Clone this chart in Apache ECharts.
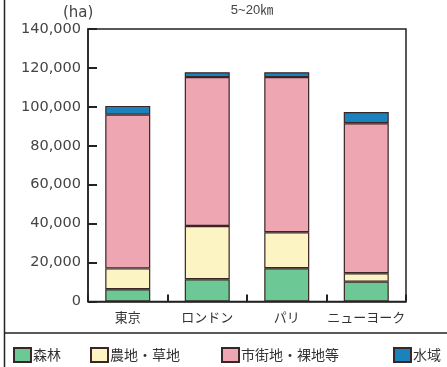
<!DOCTYPE html>
<html>
<head>
<meta charset="utf-8">
<script src="https://cdn.jsdelivr.net/npm/echarts@6/dist/echarts.min.js"></script>
<style>
  html, body { margin: 0; padding: 0; background: #fff; }
  #chart { width: 447px; height: 367px; }
</style>
</head>
<body>
<div id="chart"></div>
<script>
// Land use within 5-20 km of each city centre (ha)
const cities = ['東京', 'ロンドン', 'パリ', 'ニューヨーク'];
const forest = [6300, 11400, 17100, 10200];
const farmland = [10700, 27400, 18500, 4300];
const urban = [79000, 76500, 79700, 77100];
const water = [4500, 2500, 2500, 5700];
const yTicks = [0, 20000, 40000, 60000, 80000, 100000, 120000, 140000];

const seriesNames = ['森林', '農地・草地', '市街地・裸地等', '水域'];
const seriesColors = ['#6cc894', '#fdf4c4', '#eea6b3', '#1a83bd'];
const seriesData = [forest, farmland, urban, water];

const cjk = '"Noto Sans CJK JP", "Noto Sans", sans-serif';
const latin = '"DejaVu Sans", sans-serif';

const chart = echarts.init(document.getElementById('chart'), null, { renderer: 'canvas' });

const legendLefts = [13, 90, 221, 393];

chart.setOption({
  animation: false,
  backgroundColor: '#fff',
  title: {
    text: '5~20㎞',
    left: 247,
    top: -1,
    textAlign: 'center',
    textStyle: { fontFamily: '"Liberation Sans", "Noto Sans CJK JP", sans-serif', fontSize: 13, fontWeight: 'normal', color: '#444' }
  },
  grid: {
    left: 88, right: 41, top: 29, bottom: 65.5,
    show: true, borderColor: '#222', borderWidth: 1.5
  },
  legend: seriesNames.map((n, i) => ({
    data: [n],
    left: legendLefts[i],
    top: 347,
    padding: 0,
    icon: 'rect',
    itemWidth: 17,
    itemHeight: 14,
    textStyle: { fontFamily: cjk, fontSize: 14, color: '#333', padding: [0, 0, 0, -3] },
    selectedMode: false
  })),
  xAxis: {
    type: 'category',
    data: cities,
    axisLine: { show: true, lineStyle: { color: '#222', width: 1.5 } },
    axisTick: { show: true, inside: true, length: 7, lineStyle: { color: '#222', width: 2 } },
    axisLabel: { interval: 0, fontFamily: cjk, fontSize: 13, color: '#333', margin: 9 }
  },
  yAxis: {
    type: 'value',
    min: 0, max: 140000, interval: 20000,
    axisLine: { show: true, lineStyle: { color: '#222', width: 1.5 } },
    axisTick: { show: true, inside: true, length: 9, lineStyle: { color: '#222', width: 2 } },
    splitLine: { show: false },
    axisLabel: {
      fontFamily: latin, fontSize: 14.5, color: '#444', margin: 7,
      formatter: v => yTicks.includes(v) ? v.toLocaleString('en-US') : ''
    }
  },
  graphic: [
    { type: 'text', left: 63, top: 6,
      style: { text: '(ha)', font: '15px "DejaVu Sans", sans-serif', fill: '#444' } },
    { type: 'line', shape: { x1: 4.5, y1: 0, x2: 4.5, y2: 367 },
      style: { stroke: '#222', lineWidth: 1.5 } },
    { type: 'line', shape: { x1: 4.5, y1: 333, x2: 447, y2: 333 },
      style: { stroke: '#222', lineWidth: 1.5 } }
  ],
  series: seriesNames.map((n, i) => ({
    name: n,
    type: 'bar',
    stack: 'land',
    barWidth: 45,
    data: seriesData[i],
    itemStyle: { color: seriesColors[i], borderColor: '#3a2626', borderWidth: 1.2 }
  }))
});
</script>
</body>
</html>
